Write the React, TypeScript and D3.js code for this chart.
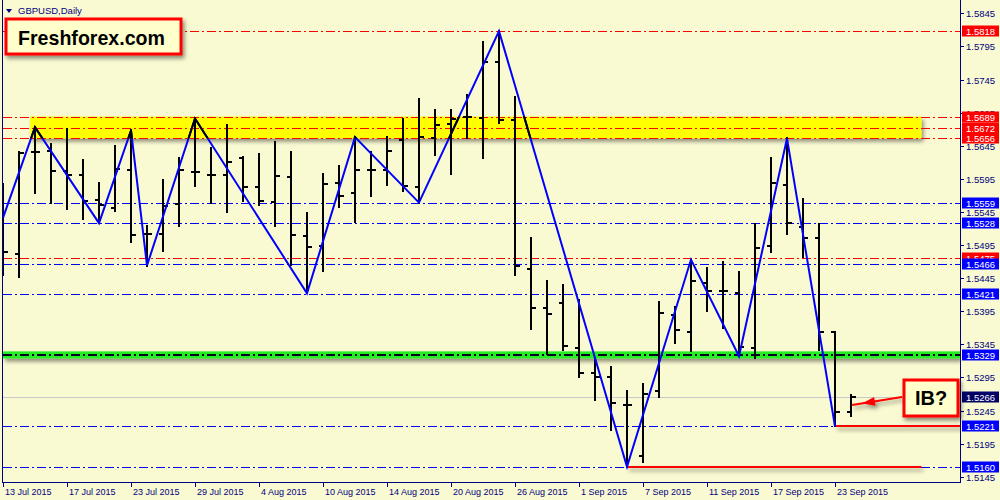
import * as d3 from 'd3';

// daily bars, 13 Jul 2015 .. 24 Sep 2015 (weekdays)
const barDates = [
  '2015-07-13', '2015-07-14', '2015-07-15', '2015-07-16', '2015-07-17',
  '2015-07-20', '2015-07-21', '2015-07-22', '2015-07-23', '2015-07-24',
  '2015-07-27', '2015-07-28', '2015-07-29', '2015-07-30', '2015-07-31',
  '2015-08-03', '2015-08-04', '2015-08-05', '2015-08-06', '2015-08-07',
  '2015-08-10', '2015-08-11', '2015-08-12', '2015-08-13', '2015-08-14',
  '2015-08-17', '2015-08-18', '2015-08-19', '2015-08-20', '2015-08-21',
  '2015-08-24', '2015-08-25', '2015-08-26', '2015-08-27', '2015-08-28',
  '2015-08-31', '2015-09-01', '2015-09-02', '2015-09-03', '2015-09-04',
  '2015-09-07', '2015-09-08', '2015-09-09', '2015-09-10', '2015-09-11',
  '2015-09-14', '2015-09-15', '2015-09-16', '2015-09-17', '2015-09-18',
  '2015-09-21', '2015-09-22', '2015-09-23', '2015-09-24',
];

const opens = [
  1.5500, 1.5481, 1.5635, 1.5637, 1.5607, 1.5601, 1.5563, 1.5551, 1.5608, 1.5512,
  1.5511, 1.5557, 1.5606, 1.5601, 1.5601, 1.5627, 1.5583, 1.5560, 1.5597, 1.5508,
  1.5494, 1.5588, 1.5574, 1.5608, 1.5608, 1.5653, 1.5583, 1.5657, 1.5678, 1.5689,
  1.5687, 1.5772, 1.5684, 1.5459, 1.5400, 1.5408, 1.5340, 1.5301, 1.5295, 1.5254,
  1.5176, 1.5275, 1.5389, 1.5364, 1.5438, 1.5426, 1.5423, 1.5340, 1.5494, 1.5585,
  1.5522, 1.5506, 1.5363, 1.5243,
];
const highs = [
  1.5587, 1.5636, 1.5673, 1.5647, 1.5670, 1.5624, 1.5588, 1.5645, 1.5668, 1.5524,
  1.5593, 1.5626, 1.5686, 1.5641, 1.5676, 1.5628, 1.5632, 1.5650, 1.5636, 1.5543,
  1.5603, 1.5614, 1.5658, 1.5636, 1.5658, 1.5686, 1.5715, 1.5699, 1.5699, 1.5722,
  1.5801, 1.5818, 1.5718, 1.5505, 1.5441, 1.5435, 1.5412, 1.5325, 1.5311, 1.5275,
  1.5285, 1.5409, 1.5401, 1.5473, 1.5460, 1.5469, 1.5454, 1.5526, 1.5626, 1.5656,
  1.5564, 1.5526, 1.5364, 1.5268,
];
const lows = [
  1.5450, 1.5447, 1.5574, 1.5558, 1.5550, 1.5535, 1.5528, 1.5547, 1.5499, 1.5464,
  1.5486, 1.5524, 1.5584, 1.5559, 1.5545, 1.5562, 1.5555, 1.5523, 1.5465, 1.5422,
  1.5455, 1.5552, 1.5530, 1.5569, 1.5586, 1.5576, 1.5559, 1.5631, 1.5602, 1.5656,
  1.5627, 1.5679, 1.5450, 1.5368, 1.5331, 1.5336, 1.5295, 1.5261, 1.5216, 1.5160,
  1.5167, 1.5266, 1.5347, 1.5335, 1.5396, 1.5369, 1.5327, 1.5325, 1.5484, 1.5511,
  1.5477, 1.5336, 1.5221, 1.5237,
];
const closes = [
  1.5485, 1.5634, 1.5636, 1.5607, 1.5601, 1.5562, 1.5555, 1.5610, 1.5510, 1.5512,
  1.5554, 1.5609, 1.5606, 1.5601, 1.5620, 1.5583, 1.5562, 1.5599, 1.5510, 1.5492,
  1.5587, 1.5569, 1.5608, 1.5608, 1.5637, 1.5584, 1.5658, 1.5677, 1.5686, 1.5689,
  1.5772, 1.5684, 1.5464, 1.5400, 1.5391, 1.5342, 1.5302, 1.5296, 1.5256, 1.5254,
  1.5270, 1.5393, 1.5366, 1.5440, 1.5426, 1.5426, 1.5341, 1.5490, 1.5588, 1.5528,
  1.5505, 1.5363, 1.5243, 1.5266,
];

// zigzag swing points: [bar index, price]
const zigzag: [number, number][] = [
  [0, 1.5536], [2, 1.5673], [6, 1.5528], [8, 1.5668], [9, 1.5464], [12, 1.5686],
  [19, 1.5422], [22, 1.5658], [26, 1.5559], [31, 1.5818], [39, 1.5160], [43, 1.5473],
  [46, 1.5327], [49, 1.5656], [52, 1.5221],
];

const axisDates = [
  '2015-07-13', '2015-07-17', '2015-07-23', '2015-07-29', '2015-08-04', '2015-08-10',
  '2015-08-14', '2015-08-20', '2015-08-26', '2015-09-01', '2015-09-07', '2015-09-11',
  '2015-09-17', '2015-09-23',
];
const priceTicks = [
  1.5145, 1.5195, 1.5245, 1.5295, 1.5345, 1.5395, 1.5445, 1.5495,
  1.5545, 1.5595, 1.5645, 1.5695, 1.5745, 1.5795, 1.5845,
];

const redLevels = [1.5818, 1.5689, 1.5672, 1.5656, 1.5475];
const blueLevels = [1.5559, 1.5528, 1.5466, 1.5421, 1.5329, 1.5221, 1.5160];
const greenLevel = 1.5329;
const bidPrice = 1.5266;
const zone = { from: 1.7, to: 57.4, top: 1.5689, bottom: 1.5656 };
const supportLines = [
  { price: 1.5221, from: 52, to: 59.9 },
  { price: 1.5160, from: 39, to: 57.4 },
];

const W = 1000;
const H = 500;
const RIGHT = 960;
const BOTTOM = 482;
const FONT = '"Liberation Sans", Arial, sans-serif';
const NAVY = '#000080';
const DASHDOT = '9,3,2,3';

const x = d3.scaleLinear().domain([0, barDates.length - 1]).range([3, 3 + 16 * (barDates.length - 1)]);
const y = d3.scaleLinear().domain([1.5145, 1.5845]).range([476.7, 13.3]);
const dateIndex = new Map(barDates.map((d, i) => [d, i]));
const fmtDate = d3.timeFormat('%-d %b %Y');
const parse = d3.timeParse('%Y-%m-%d');

const zigLine = d3.line<[number, number]>()
  .x(d => x(d[0]))
  .y(d => y(d[1]));

const priceBox = (p: number, fill: string) => (
  <g key={`${p}-${fill}`}>
    <rect x={962} y={Math.round(y(p)) - 5.5} width={37} height={11} fill={fill} />
    <text x={966} y={Math.round(y(p)) + 3.5} fontSize={9.5} fill="#fff" fontFamily={FONT}>
      {p.toFixed(4)}
    </text>
  </g>
);

// arrow from IB box to last bar
const tail = [902, 397];
const tip = [862, 403.5];
const ang = Math.atan2(tip[1] - tail[1], tip[0] - tail[0]);
const head = (len: number, half: number) => {
  const bx = tip[0] - len * Math.cos(ang);
  const by = tip[1] - len * Math.sin(ang);
  const px = -Math.sin(ang) * half;
  const py = Math.cos(ang) * half;
  return `${tip[0]},${tip[1]} ${bx + px},${by + py} ${bx - px},${by - py}`;
};

export default function App() {
  const zx0 = x(zone.from);
  const zx1 = x(zone.to);
  const zy0 = y(zone.top);
  const zy1 = y(zone.bottom);

  return (
    <div style={{ position: 'absolute', left: 0, top: 0 }}>
      <svg width={W} height={H} style={{ display: 'block' }} fontFamily={FONT}>
        <defs>
          <filter id="shadow" filterUnits="userSpaceOnUse" x={0} y={0} width={W} height={H}>
            <feDropShadow dx="2" dy="3" stdDeviation="2" floodColor="#000" floodOpacity="0.45" />
          </filter>
          <clipPath id="plot">
            <rect x={3} y={0} width={RIGHT - 3} height={BOTTOM} />
          </clipPath>
          <clipPath id="zoneClip">
            <rect x={zx0} y={zy0} width={zx1 - zx0} height={zy1 - zy0} />
          </clipPath>
        </defs>

        <rect width={W} height={H} fill="#fafad2" />

        <g clipPath="url(#plot)">
          {/* yellow zone */}
          <rect x={zx0} y={zy0} width={zx1 - zx0} height={zy1 - zy0} fill="#ffff00" filter="url(#shadow)" />

          {/* green level band */}
          <rect x={3} y={y(greenLevel) - 3.5} width={RIGHT - 3} height={7} fill="#22ee22" filter="url(#shadow)" />

          {/* level lines */}
          {redLevels.map(p => (
            <line key={`r${p}`} x1={3} x2={RIGHT} y1={Math.round(y(p)) + 0.5} y2={Math.round(y(p)) + 0.5}
              stroke="#ff0000" strokeDasharray={DASHDOT} />
          ))}
          {blueLevels.filter(p => p !== greenLevel).map(p => (
            <line key={`b${p}`} x1={3} x2={RIGHT} y1={Math.round(y(p)) + 0.5} y2={Math.round(y(p)) + 0.5}
              stroke="#0000ff" strokeDasharray={DASHDOT} />
          ))}
          <line x1={3} x2={RIGHT} y1={Math.round(y(greenLevel))} y2={Math.round(y(greenLevel))}
            stroke="#000022" strokeWidth={2} strokeDasharray={DASHDOT} />
          <line x1={3} x2={RIGHT} y1={Math.round(y(bidPrice)) + 0.5} y2={Math.round(y(bidPrice)) + 0.5}
            stroke="#c8c8c8" />

          {/* red support segments */}
          {supportLines.map(s => (
            <rect key={`s${s.price}`} x={x(s.from)} width={x(s.to) - x(s.from)} y={Math.round(y(s.price)) - 1} height={2}
              fill="#ff0000" filter="url(#shadow)" />
          ))}

          {/* OHLC bars */}
          <g stroke="#000" strokeWidth={2} shapeRendering="crispEdges">
            {barDates.map((d, i) => {
              const cx = x(i);
              return (
                <g key={d}>
                  <line x1={cx} x2={cx} y1={y(highs[i]) - 1} y2={y(lows[i]) + 1} />
                  <line x1={cx - 4} x2={cx} y1={y(opens[i])} y2={y(opens[i])} />
                  <line x1={cx} x2={cx + 5} y1={y(closes[i])} y2={y(closes[i])} />
                </g>
              );
            })}
          </g>

          {/* zigzag */}
          <path d={zigLine(zigzag) || ''} fill="none" stroke="#0000ff" strokeWidth={2} />
          <path d={zigLine(zigzag) || ''} fill="none" stroke="#000" strokeWidth={2} clipPath="url(#zoneClip)" />
        </g>

        {/* frame and axes */}
        <line x1={2.5} x2={2.5} y1={0} y2={BOTTOM} stroke={NAVY} />
        <line x1={2} x2={RIGHT + 1} y1={BOTTOM + 0.5} y2={BOTTOM + 0.5} stroke={NAVY} />
        <line x1={RIGHT + 0.5} x2={RIGHT + 0.5} y1={0} y2={BOTTOM + 1} stroke={NAVY} />

        {priceTicks.map(p => (
          <g key={`t${p}`}>
            <line x1={RIGHT} x2={RIGHT + 4} y1={Math.round(y(p)) + 0.5} y2={Math.round(y(p)) + 0.5} stroke={NAVY} />
            <text x={966} y={Math.round(y(p)) + 3.5} fontSize={9.5} fill={NAVY}>{p.toFixed(4)}</text>
          </g>
        ))}

        {axisDates.map(d => {
          const tx = Math.round(x(dateIndex.get(d) ?? 0)) + 0.5;
          return (
            <g key={`x${d}`}>
              <line x1={tx} x2={tx} y1={BOTTOM} y2={BOTTOM + 5} stroke={NAVY} />
              <text x={tx + 1.5} y={495} fontSize={9} fill={NAVY}>{fmtDate(parse(d) as Date)}</text>
            </g>
          );
        })}

        {/* price labels */}
        {redLevels.map(p => priceBox(p, '#ff0000'))}
        {blueLevels.map(p => priceBox(p, '#0000ff'))}
        {priceBox(bidPrice, '#000066')}

        {/* title */}
        <path d="M6,9 L12,9 L9,13 Z" fill={NAVY} />
        <text x={18} y={14} fontSize={9.5} fill={NAVY}>GBPUSD,Daily</text>

        {/* Freshforex box */}
        <rect x={6} y={19} width={175} height={35} fill="#ffffcc" stroke="#ff0000" strokeWidth={3} filter="url(#shadow)" />
        <text x={18} y={45} fontSize={21} fontWeight="bold" fill="#000" textLength={147} lengthAdjust="spacingAndGlyphs">
          Freshforex.com
        </text>

        {/* IB? callout */}
        <g filter="url(#shadow)">
          <line x1={tail[0]} y1={tail[1]} x2={tip[0] + 10 * Math.cos(ang)} y2={tip[1] + 10 * Math.sin(ang)}
            stroke="#ff0000" strokeWidth={2} />
          <polygon points={head(13, 4.5)} fill="#ff0000" />
        </g>
        <rect x={904} y={380} width={54} height={36} fill="#ffffcc" stroke="#ff0000" strokeWidth={3} filter="url(#shadow)" />
        <text x={931} y={405} fontSize={20} fontWeight="bold" textAnchor="middle" fill="#000">IB?</text>
      </svg>
    </div>
  );
}
